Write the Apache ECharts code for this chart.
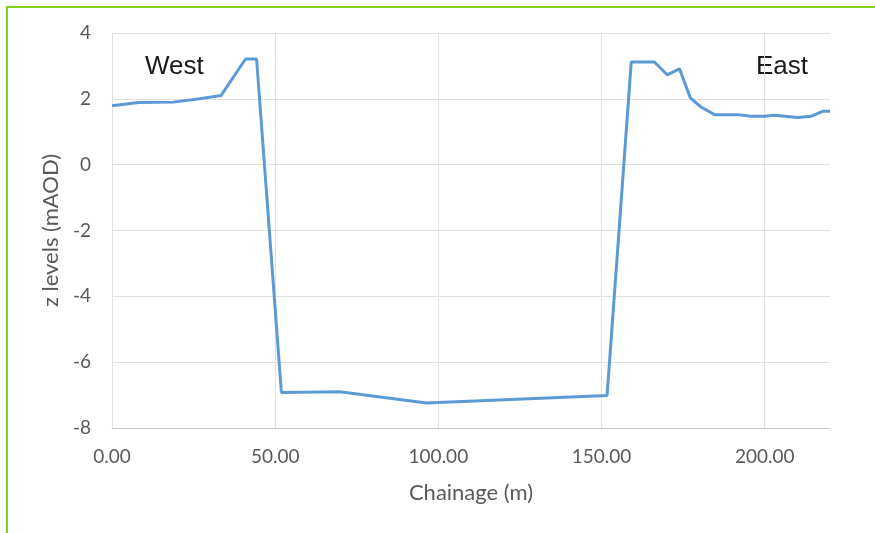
<!DOCTYPE html>
<html>
<head>
<meta charset="utf-8">
<script src="https://cdn.jsdelivr.net/npm/echarts@6/dist/echarts.min.js"></script>
<style>
html,body{margin:0;padding:0;background:#fff;}
#chart{width:875px;height:533px;}
</style>
</head>
<body>
<div id="chart"></div>
<script>
var chainage = [0, 8.1, 18.8, 26.9, 33.4, 40.9, 44.3, 51.9, 69.8, 96.3, 151.7, 159.1, 166.2, 170.1, 173.9, 177.2, 180.5, 184.6, 191.7, 195.8, 199.9, 203.0, 210.1, 214.2, 217.7, 220.0];
var zLevel = [1.79, 1.89, 1.90, 2.00, 2.10, 3.21, 3.21, -6.92, -6.90, -7.24, -7.01, 3.12, 3.12, 2.73, 2.91, 2.03, 1.75, 1.52, 1.52, 1.47, 1.47, 1.50, 1.43, 1.47, 1.62, 1.62];
var xTicks = [0, 50, 100, 150, 200];
var yTicks = [-8, -6, -4, -2, 0, 2, 4];
var sideLabels = ['West', 'East'];

var chart = echarts.init(document.getElementById('chart'));
var pts = chainage.map(function (c, i) { return [c, zLevel[i]]; });
var tickFont = { fontFamily: 'Lato', fontSize: 19, color: '#595959' };
chart.setOption({
  animation: false,
  grid: { left: 112, top: 33, right: 45, bottom: 105 },
  xAxis: {
    type: 'value', min: xTicks[0], max: 220, interval: xTicks[1] - xTicks[0],
    name: 'Chainage (m)', nameLocation: 'middle', nameGap: 54,
    nameTextStyle: { fontFamily: 'Lato', fontSize: 22, color: '#595959' },
    axisLine: { show: true, onZero: false, lineStyle: { color: '#c8c8c8', width: 1 } },
    axisTick: { show: false },
    axisLabel: Object.assign({ margin: 19, showMaxLabel: false, formatter: function (v) { return v.toFixed(2); } }, tickFont),
    splitLine: { show: true, showMaxLine: false, lineStyle: { color: '#e0e0e0', width: 1 } }
  },
  yAxis: {
    type: 'value', min: yTicks[0], max: yTicks[yTicks.length - 1], interval: yTicks[1] - yTicks[0],
    name: 'z levels (mAOD)', nameLocation: 'middle', nameGap: 50,
    nameTextStyle: { fontFamily: 'Lato', fontSize: 22, color: '#595959' },
    axisLine: { show: false },
    axisTick: { show: false },
    axisLabel: Object.assign({ margin: 21 }, tickFont),
    splitLine: { show: true, lineStyle: { color: '#e0e0e0', width: 1 } }
  },
  series: [{
    type: 'line', data: pts, showSymbol: false, symbol: 'none',
    lineStyle: { color: '#5b9bd5', width: 3 }
  }],
  graphic: [
    { type: 'rect', shape: { x: 6, y: 6, width: 2, height: 527 }, style: { fill: '#7ed321' } },
    { type: 'rect', shape: { x: 6, y: 6, width: 869, height: 2 }, style: { fill: '#7ed321' } },
    { type: 'text', left: 145, top: 54, style: { text: sideLabels[0], font: '26px "Liberation Sans"', fill: '#1a1a1a' } },
    { type: 'text', left: 756, top: 54, style: { text: sideLabels[1], font: '26px "Liberation Sans"', fill: '#1a1a1a' } }
  ]
});
</script>
</body>
</html>
